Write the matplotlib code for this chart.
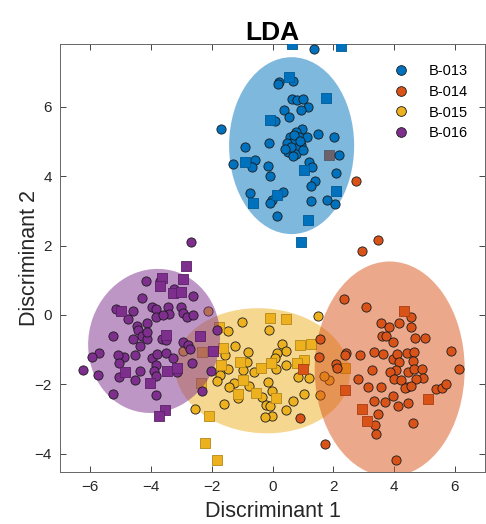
import matplotlib
matplotlib.use('Agg')
import matplotlib.pyplot as plt
from matplotlib.patches import Ellipse
from matplotlib.lines import Line2D

plt.rcParams['font.family'] = ['Liberation Sans', 'DejaVu Sans']

# class names and MATLAB default colours
classes = ['B-013', 'B-014', 'B-015', 'B-016']
colors = ['#0072BD', '#D95319', '#EDB120', '#7E2F8E']
sq_edges = ['#005a94', '#a63f13', '#b48718', '#5a2166']

# B-013 (blue)
b013_cx = [1.36, -1.70, 0.23, 0.17, 0.69, 0.63, 0.81, 1.01, 1.17, 0.95, 0.37, 0.55, 0.07,
           -0.11, -0.91, -0.57, -0.67, -1.30, -0.15, -0.09, 0.97, 0.79, 0.57, 0.87, 1.14,
           0.68, 0.95, 0.48, 0.77, 0.51, 0.79, 0.66, 1.50, 2.03, 2.19, 1.20, 1.30, 2.08,
           1.41, 1.26, 0.34, -0.75, -0.02, -0.09, 1.28, 1.79, 2.07, 0.16,
           0.72, 0.60, 0.90, 1.02, 0.40]
b013_cy = [7.66, 5.37, 6.71, 6.65, 6.74, 6.23, 6.20, 6.22, 5.99, 5.91, 5.91, 5.70, 5.60,
           4.97, 4.83, 4.47, 4.27, 4.34, 4.30, 4.01, 5.37, 5.28, 5.14, 5.12, 5.14,
           4.99, 4.90, 4.95, 4.80, 4.71, 4.64, 4.58, 5.21, 5.12, 4.62, 4.42, 4.26, 4.10,
           3.85, 3.72, 3.55, 3.52, 3.31, 3.24, 3.28, 3.31, 3.21, 2.86,
           5.20, 4.85, 5.00, 4.75, 4.78]
b013_sx = [0.65, 2.25, 0.55, 1.76, -0.09, -0.91, 1.03, 0.16, 2.08, -0.64, 1.16, 0.93]
b013_sy = [7.80, 7.75, 6.85, 6.25, 5.62, 4.40, 4.18, 3.47, 3.58, 3.22, 2.74, 2.11]

# B-014 (orange)
b014_cx = [2.76, 3.49, 2.94, 2.35, 3.08, 4.56, 3.56, 3.84, 4.17, 4.57, 3.62, 3.73, 3.96,
           4.70, 5.02, 5.88, 6.14, 1.58, 2.43, 2.38, 2.89, 3.33, 3.65, 3.96, 4.11, 4.44,
           4.66, 4.17, 4.63, 4.07, 3.86, 4.46, 4.66, 4.92, 4.95, 4.74, 3.99, 4.24, 4.43,
           4.35, 4.57, 3.28, 2.81, 3.14, 3.56, 3.96, 3.33, 3.72, 4.14, 4.45, 5.39, 5.59,
           5.70, 3.49, 3.37, 3.42, 4.63, 4.08, 1.72, 2.10, 2.14, 1.53, 0.90]
b014_cy = [3.86, 2.16, 1.84, 0.45, 0.23, -0.06, -0.24, -0.35, -0.24, -0.35, -0.62, -0.61, -0.77,
           -0.67, -0.67, -1.04, -1.55, -0.69, -1.10, -1.17, -1.17, -1.08, -1.13, -1.28, -1.13, -1.09,
           -1.06, -1.37, -1.32, -1.59, -1.66, -1.66, -1.56, -1.56, -1.81, -1.85, -1.85, -1.87, -2.07,
           -2.11, -2.05, -1.60, -1.84, -2.08, -2.08, -2.35, -2.47, -2.50, -2.62, -2.53, -2.13, -2.11,
           -1.99, -2.86, -3.17, -3.44, -3.12, -4.18, -3.72, -1.42, -1.54, -1.20, -2.98]
b014_sx = [1.85, 4.33, 5.13, 2.95, 3.12, 2.40, 0.99]
b014_sy = [4.62, 0.11, -2.42, -2.71, -3.07, -2.16, -1.56]

# B-015 (yellow)
b015_cx = [1.50, 1.86, 1.69, 1.56, -1.01, -1.47, -0.13, -1.24, -0.82, -1.55, 0.30, 0.44, 0.16,
           0.08, 0.44, 0.11, -0.84, -0.97, -1.46, -1.73, -0.61, -1.27, -1.44, -1.84, -0.78,
           -0.16, 0.84, 1.20, 1.03, 0.68, 0.46, -0.01, -0.33, -0.22, -0.07, -0.03, -0.25,
           -1.60, -2.56, -1.13, -2.12, -2.94]
b015_cy = [-0.02, -1.87, -1.76, -2.31, -0.21, -0.46, -0.43, -0.91, -1.08, -1.15, -0.85, -1.03, -1.09,
           -1.25, -1.44, -1.57, -1.37, -1.59, -1.56, -1.73, -1.66, -1.97, -2.08, -1.90, -2.05,
           -1.92, -1.80, -1.83, -2.29, -2.47, -2.74, -2.18, -2.38, -2.59, -2.62, -2.91, -2.95,
           -2.57, -2.72, -2.40, 0.10, -1.03]
b015_sx = [-0.09, 0.43, 0.90, 1.28, 1.04, 0.81, -1.70, -1.08, -0.38, -0.06, -0.97, -1.15,
           -0.53, 0.11, -2.10, -2.23, -1.84, -1.62, -2.31, -2.34, -1.76, 2.38]
b015_sy = [-0.08, -0.12, -0.88, -0.85, -1.30, -1.39, -1.44, -1.36, -1.54, -1.39, -1.87, -2.29,
           -2.26, -2.40, -2.91, -3.70, -4.18, -0.94, -1.06, -1.97, -0.34, -1.54]

# B-016 (purple)
b016_cx = [-2.70, -4.17, -3.71, -3.24, -2.61, -4.31, -5.16, -4.61, -4.75, -4.47, -4.14, -3.98,
           -3.84, -3.84, -3.43, -3.40, -3.60, -3.03, -2.94, -2.83, -2.63, -4.42, -4.31, -4.12,
           -4.61, -5.24, -3.65, -3.51, -2.94, -2.78, -2.72, -4.37, -4.53, -4.89, -5.08, -5.70,
           -5.93, -6.23, -5.74, -5.05, -5.05, -4.37, -4.53, -3.98, -3.82, -3.51, -3.27, -3.84,
           -3.91, -3.84, -3.16, -2.66, -5.27, -3.85, -2.04, -2.32, -1.84, -4.12]
b016_cy = [2.11, 0.99, 0.98, 0.74, 0.55, 0.48, 0.16, 0.10, -0.12, -0.32, -0.24, 0.22,
           0.16, -0.07, 0.22, 0.03, 0.00, 0.22, 0.05, -0.05, 0.00, -0.43, -0.62, -0.70,
           -0.70, -0.62, -0.70, -0.72, -0.77, -0.86, -0.99, -0.91, -1.15, -1.20, -1.15, -1.09,
           -1.20, -1.59, -1.73, -1.39, -1.78, -1.63, -1.87, -1.25, -1.12, -1.09, -1.25, -1.44,
           -1.63, -1.76, -1.66, -1.39, -2.28, -2.32, -1.63, -2.18, -0.43, -0.48]
b016_sx = [-2.86, -2.95, -3.63, -3.70, -3.27, -3.02, -4.99, -3.51, -2.39, -1.95, -3.49, -3.13,
           -4.86, -4.04, -3.54, -3.74]
b016_sy = [1.41, 1.03, 1.06, 0.82, 0.64, 0.67, 0.10, -0.58, -0.62, -1.03, -1.63, -1.54,
           -1.66, -1.95, -2.74, -2.90]

# class ellipses: centre x, centre y, full width, full height, angle
ell_cx = [0.63, 3.86, -0.33, -3.90]
ell_cy = [4.88, -1.56, -1.61, -0.75]
ell_w = [4.12, 4.94, 5.76, 4.40]
ell_h = [5.10, 6.20, 3.60, 4.10]
ell_ang = [0, 0, -3, 25]

circ_x = [b013_cx, b014_cx, b015_cx, b016_cx]
circ_y = [b013_cy, b014_cy, b015_cy, b016_cy]
sq_x = [b013_sx, b014_sx, b015_sx, b016_sx]
sq_y = [b013_sy, b014_sy, b015_sy, b016_sy]

fig = plt.figure(figsize=(4.86, 5.24), dpi=100)
ax = fig.add_axes([60 / 486, 1 - 471.7 / 524, 425 / 486, 427.7 / 524])

# each class: ellipse first, then its points; later ellipses tint earlier points
order = [2, 1, 3, 0]
z = 2
for k in order:
    ax.add_patch(Ellipse((ell_cx[k], ell_cy[k]), ell_w[k], ell_h[k], angle=ell_ang[k],
                         facecolor=colors[k], edgecolor='none', alpha=0.5, zorder=z))
    ax.scatter(circ_x[k], circ_y[k], s=44, marker='o', facecolor=colors[k],
               edgecolor='#1a1a1a', linewidth=0.6, zorder=z + 1)
    ax.scatter(sq_x[k], sq_y[k], s=52, marker='s', facecolor=colors[k],
               edgecolor=sq_edges[k], linewidth=0.6, zorder=z + 1)
    z += 2

ax.set_xlim(-7, 7)
ax.set_ylim(-4.52, 7.81)
ax.set_xticks([-6, -4, -2, 0, 2, 4, 6])
ax.set_yticks([-4, -2, 0, 2, 4, 6])
ax.tick_params(direction='in', top=True, right=True, length=4, width=0.6,
               labelsize=11, colors='#262626', pad=6)
for sp in ax.spines.values():
    sp.set_color('#666666')
    sp.set_linewidth(0.7)

ax.set_xlabel('Discriminant 1', fontsize=15.5, color='#262626', labelpad=5)
ax.set_ylabel('Discriminant 2', fontsize=15.5, color='#262626', labelpad=-4)
ax.set_title('LDA', fontsize=19, fontweight='bold', pad=3)

handles = [Line2D([], [], marker='o', linestyle='none', markersize=7,
                  markerfacecolor=c, markeredgecolor='#1a1a1a', markeredgewidth=0.6)
           for c in colors]
ax.legend(handles, classes, loc='upper left', bbox_to_anchor=(0.755, 0.983),
          frameon=False, fontsize=10.5, handlelength=1.0, handletextpad=1.4,
          labelspacing=0.45)

fig.savefig('out.png', dpi=100, facecolor='white')
